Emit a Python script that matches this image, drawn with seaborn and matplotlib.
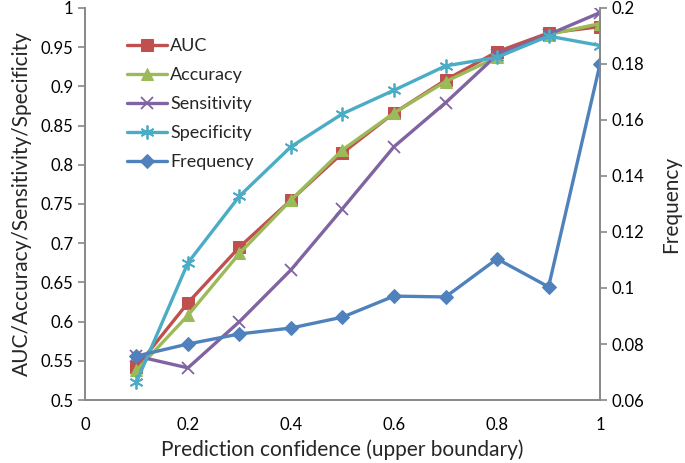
import matplotlib
matplotlib.use("Agg")
import matplotlib.pyplot as plt
import seaborn as sns
import pandas as pd

confidence = [0.1, 0.2, 0.3, 0.4, 0.5, 0.6, 0.7, 0.8, 0.9, 1.0]
auc = [0.542, 0.624, 0.695, 0.755, 0.815, 0.866, 0.908, 0.944, 0.968, 0.976]
accuracy = [0.538, 0.608, 0.687, 0.755, 0.819, 0.866, 0.906, 0.937, 0.966, 0.980]
sensitivity = [0.556, 0.541, 0.600, 0.666, 0.744, 0.823, 0.879, 0.940, 0.966, 0.994]
specificity = [0.523, 0.675, 0.760, 0.823, 0.865, 0.895, 0.926, 0.937, 0.964, 0.952]
frequency = [0.0757, 0.0800, 0.0836, 0.0857, 0.0896, 0.0971, 0.0968, 0.1104, 0.1004, 0.1800]

left_ticks = [0.5, 0.55, 0.6, 0.65, 0.7, 0.75, 0.8, 0.85, 0.9, 0.95, 1]
right_ticks = [0.06, 0.08, 0.1, 0.12, 0.14, 0.16, 0.18, 0.2]
x_ticks = [0, 0.2, 0.4, 0.6, 0.8, 1]

sns.set_style("white")
plt.rcParams['font.family'] = ['Lato', 'DejaVu Sans']

df = pd.DataFrame({"conf": confidence, "AUC": auc, "Accuracy": accuracy,
                   "Sensitivity": sensitivity, "Specificity": specificity,
                   "Frequency": frequency})

fig = plt.figure(figsize=(6.85, 4.63), dpi=100)
ax = fig.add_axes([0.124, 0.136, 0.752, 0.847])
ax2 = ax.twinx()

lw = 2.4
sns.lineplot(data=df, x="conf", y="AUC", ax=ax, color="#C0504D", marker="s",
             markersize=8, lw=lw, markeredgecolor="#C0504D", label="AUC", legend=False)
sns.lineplot(data=df, x="conf", y="Accuracy", ax=ax, color="#9BBB59", marker="^",
             markersize=8, lw=lw, markeredgecolor="#9BBB59", label="Accuracy", legend=False)
sns.lineplot(data=df, x="conf", y="Sensitivity", ax=ax, color="#8064A2", marker="x",
             markersize=9, lw=lw, markeredgewidth=1.3, markeredgecolor="#8064A2",
             label="Sensitivity", legend=False)
sns.lineplot(data=df, x="conf", y="Specificity", ax=ax, color="#4BACC6", marker=(6, 2, 0),
             markersize=10, lw=lw, markeredgewidth=1.3, markeredgecolor="#4BACC6",
             label="Specificity", legend=False)
sns.lineplot(data=df, x="conf", y="Frequency", ax=ax2, color="#4F81BD", marker="D",
             markersize=7, lw=lw, markeredgecolor="#4F81BD", label="Frequency", legend=False)

ax.set_xlim(0, 1)
ax.set_ylim(0.5, 1)
ax2.set_ylim(0.06, 0.2)
ax.set_xticks(x_ticks)
ax.set_xticklabels([f"{t:g}" for t in x_ticks])
ax.set_yticks(left_ticks)
ax.set_yticklabels([f"{t:g}" for t in left_ticks])
ax2.set_yticks(right_ticks)
ax2.set_yticklabels([f"{t:g}" for t in right_ticks])

for a in (ax, ax2):
    for s in a.spines.values():
        s.set_color("#888888")
        s.set_linewidth(1.2)
    a.spines["top"].set_visible(False)
    a.tick_params(direction="out", length=5, width=1.2, color="#888888",
                  labelsize=12, labelcolor="black")
ax.tick_params(axis="x", pad=7)

ax.set_xlabel("Prediction confidence (upper boundary)", fontsize=15, labelpad=5)
ax.set_ylabel("AUC/Accuracy/Sensitivity/Specificity", fontsize=15, labelpad=6)
ax2.set_ylabel("Frequency", fontsize=15, labelpad=12)

h1, l1 = ax.get_legend_handles_labels()
h2, l2 = ax2.get_legend_handles_labels()
ax.legend(h1 + h2, l1 + l2, loc="upper left", bbox_to_anchor=(0.05, 0.965),
          frameon=False, fontsize=13, handlelength=2.2, labelspacing=0.72,
          handletextpad=0.2)

fig.savefig("out.png", dpi=100)
